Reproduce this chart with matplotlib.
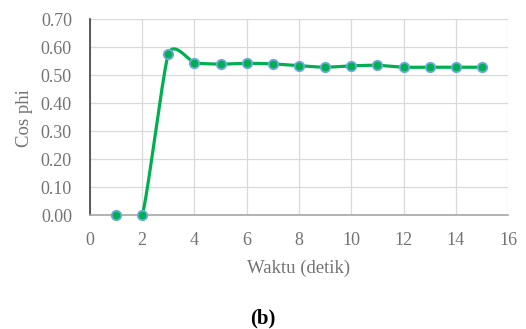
import numpy as np
import matplotlib.pyplot as plt

waktu = [1, 2, 3, 4, 5, 6, 7, 8, 9, 10, 11, 12, 13, 14, 15]
cos_phi = [0.0, 0.0, 0.575, 0.544, 0.539, 0.542, 0.540, 0.533, 0.528,
           0.533, 0.535, 0.528, 0.528, 0.528, 0.528]

x_ticks = [0, 2, 4, 6, 8, 10, 12, 14, 16]
y_ticks = [0.0, 0.1, 0.2, 0.3, 0.4, 0.5, 0.6, 0.7]


def smooth_line(xs, ys, k=0.1, n=30):
    # garis halus ala Excel (bezier kubik lewat tiap titik)
    p = np.column_stack([xs, ys]).astype(float)
    out = []
    for i in range(len(p) - 1):
        p0 = p[i - 1] if i > 0 else p[i]
        p3 = p[i + 2] if i + 2 < len(p) else p[i + 1]
        c1 = p[i] + (p[i + 1] - p0) * k
        c2 = p[i + 1] - (p3 - p[i]) * k
        t = np.linspace(0, 1, n)[:, None]
        seg = ((1 - t) ** 3 * p[i] + 3 * (1 - t) ** 2 * t * c1
               + 3 * (1 - t) * t ** 2 * c2 + t ** 3 * p[i + 1])
        out.append(seg)
    out = np.vstack(out)
    return out[:, 0], out[:, 1]


plt.rcParams['font.family'] = ['Liberation Serif', 'DejaVu Serif']
txt = '#737373'

fig = plt.figure(figsize=(5.26, 3.29), dpi=100)
ax = fig.add_axes([0.171, 0.3465, 0.795, 0.5955])

sx, sy = smooth_line(waktu, cos_phi)
ax.plot(sx, sy, color='#00b050', lw=2.3, zorder=3, solid_capstyle='round')
ax.plot(waktu, cos_phi, 'o', ms=6.8, mfc='#00b050', mec='#6fa8dc', mew=1.3,
        zorder=4, clip_on=False)

ax.set_xlim(0, 16)
ax.set_ylim(0, 0.7)
ax.set_xticks(x_ticks)
ax.set_yticks(y_ticks)
ax.set_yticklabels(['%.2f' % v for v in y_ticks])
ax.grid(True, color='#d9d9d9', lw=0.9)
ax.set_axisbelow(True)
for s in ['top', 'right']:
    ax.spines[s].set_visible(False)
ax.spines['left'].set_color('#404040')
ax.spines['bottom'].set_color('#a6a6a6')
ax.spines['left'].set_linewidth(1.2)
ax.spines['bottom'].set_linewidth(1.2)
ax.tick_params(length=0, labelsize=13, labelcolor=txt)
ax.tick_params(axis='y', pad=13)
ax.tick_params(axis='x', pad=12)

fig.text(0.568, 1 - 268 / 329, 'Waktu (detik)', ha='center', va='center',
         fontsize=13.5, color=txt)
fig.text(0.0475, 1 - 118 / 329, 'Cos phi', ha='center', va='center',
         rotation=90, fontsize=13.5, color=txt)

fig.text(0.5, 1 - 318 / 329, '(b)', ha='center', va='center', fontsize=15,
         fontweight='bold')

fig.savefig('out.png', dpi=100)
